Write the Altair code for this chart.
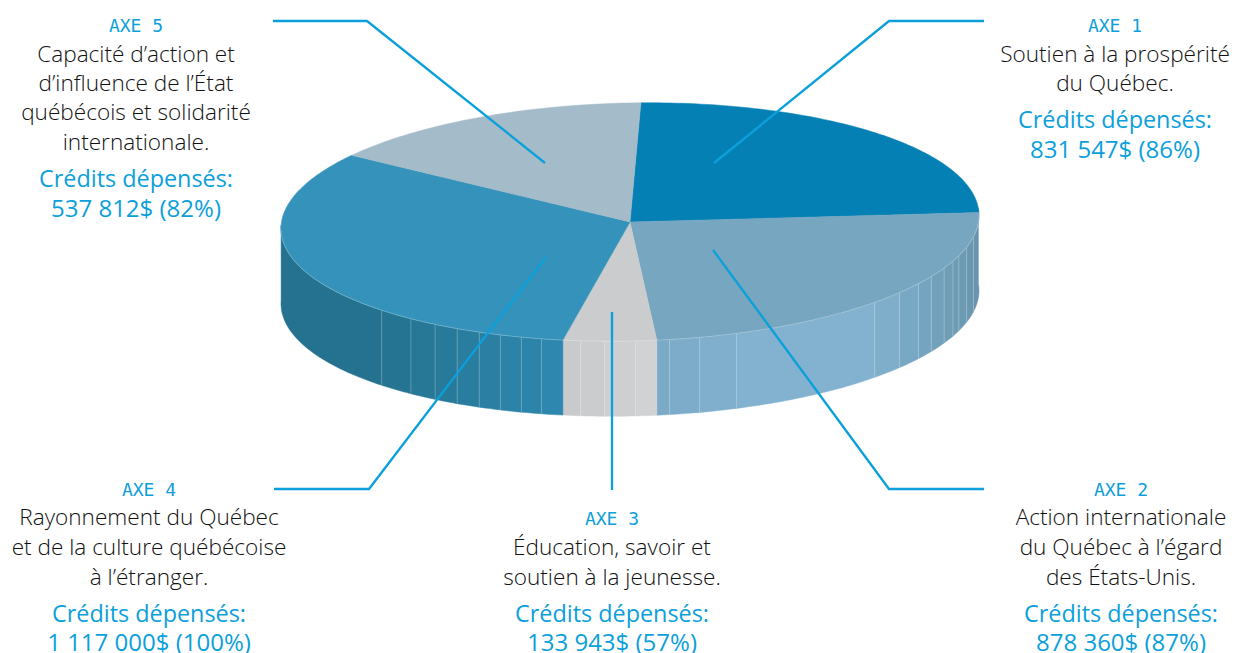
import math
import altair as alt
import pandas as pd

# ---- values ----
axes = ["AXE 1", "AXE 2", "AXE 3", "AXE 4", "AXE 5"]
slice_degrees = [86.8, 87.0, 15.5, 116.0, 54.7]
top_colors = ["#0580b4", "#76a6c0", "#cbcccd", "#3492bb", "#a4bbc9"]
descriptions = [
    ["Soutien à la prospérité", "du Québec."],
    ["Action internationale", "du Québec à l’égard", "des États-Unis."],
    ["Éducation, savoir et", "soutien à la jeunesse."],
    ["Rayonnement du Québec", "et de la culture québécoise", "à l’étranger."],
    ["Capacité d’action et", "d’influence de l’État", "québécois et solidarité", "internationale."],
]
credits_label = "Crédits dépensés:"
credits = ["831 547$ (86%)", "878 360$ (87%)", "133 943$ (57%)", "1 117 000$ (100%)", "537 812$ (82%)"]

# ---- layout of the picture (image pixels) ----
CX, CY, A, B, TILT, DEPTH, START = 630, 222, 349, 119, 0.021, 75, 2.2
BLUE = "#0ba0db"
label_x = [1115, 1121, 612, 149, 136]
title_base = [32, 496, 525, 496, 32]
desc_base = [[62, 91], [525, 555, 585], [555, 585], [525, 555, 585], [62, 91, 120, 150]]
cred_base = [[128, 158], [622, 651], [622, 651], [622, 651], [187, 217]]
leaders = [
    [(984, 21), (889, 21), (714, 163)],
    [(984, 489), (889, 489), (713, 250)],
    [(612, 490), (612, 312)],
    [(274, 489), (369, 489), (546, 257)],
    [(273, 21), (367, 21), (545, 163)],
]
seam_x = [380, 409, 433, 455, 477, 498, 519, 539, 578, 602, 633, 667, 697, 734,
          873, 898, 917, 930, 943, 952, 958, 966, 973]
side_stops = [(281, "#24728f"), (380, "#24728f"), (562, "#2f88b0"),
              (563, "#c8c9cb"), (656, "#d2d3d5"),
              (657, "#7aa9c6"), (750, "#82b2d0"), (870, "#82b2d0"), (930, "#73a3bd"), (979, "#6a95ae")]


def rim(deg, drop=0):
    t = math.radians(deg)
    u, v = A * math.sin(t), B * math.cos(t)
    return (CX + u - v * TILT, CY - u * TILT - v + drop)


def mix(x):
    for (x0, c0), (x1, c1) in zip(side_stops, side_stops[1:]):
        if x <= x1:
            f = max(0, (x - x0) / (x1 - x0))
            a = [int(c0[i:i + 2], 16) for i in (1, 3, 5)]
            b = [int(c1[i:i + 2], 16) for i in (1, 3, 5)]
            return "#%02x%02x%02x" % tuple(round(p + (q - p) * f) for p, q in zip(a, b))
    return side_stops[-1][1]


def seam_deg(x):
    return 180 - math.degrees(math.asin((x - CX) / A))


top_rows, side_rows, seam_rows, rim_rows = [], [], [], []
ang = START
cum = []
for name, deg, col in zip(axes, slice_degrees, top_colors):
    pts = [(CX, CY)]
    n = int(deg) + 2
    pts += [rim(ang + deg * i / (n - 1)) for i in range(n)]
    for k, (x, y) in enumerate(pts):
        top_rows.append(dict(g=name, k=k, x=x, y=y, c=col))
    ang += deg
    cum.append(ang)

edges = sorted([87.0, 272.0, cum[1], cum[2]] + [seam_deg(x) for x in seam_x])
for sid, (d0, d1) in enumerate(zip(edges, edges[1:])):
    n = max(2, int(d1 - d0) + 2)
    angs = [d0 + (d1 - d0) * i / (n - 1) for i in range(n)]
    poly_pts = [rim(t) for t in angs] + [rim(t, DEPTH) for t in reversed(angs)]
    col = mix(rim((d0 + d1) / 2)[0])
    for k, (x, y) in enumerate(poly_pts):
        side_rows.append(dict(g=sid, k=k, x=x, y=y, c=col))

for i, x in enumerate(seam_x):
    dg = seam_deg(x)
    for k, drop in enumerate((0, DEPTH)):
        px, py = rim(dg, drop)
        seam_rows.append(dict(g=i, k=k, x=px, y=py))

for i in range(0, 181):
    px, py = rim(90 + i)
    rim_rows.append(dict(k=i, x=px, y=py))

leader_rows = []
for i, line in enumerate(leaders):
    for k, (x, y) in enumerate(line):
        leader_rows.append(dict(g=i, k=k, x=x, y=y))

title_rows, desc_rows, label_rows, amount_rows = [], [], [], []
for i, name in enumerate(axes):
    title_rows.append(dict(x=label_x[i], y=title_base[i], t=name))
    for s, y in zip(descriptions[i], desc_base[i]):
        desc_rows.append(dict(x=label_x[i], y=y, t=s))
    label_rows.append(dict(x=label_x[i], y=cred_base[i][0], t=credits_label))
    amount_rows.append(dict(x=label_x[i], y=cred_base[i][1], t=credits[i]))

X = alt.X("x:Q", scale=alt.Scale(domain=[8, 1230], nice=False, zero=False), axis=None)
Y = alt.Y("y:Q", scale=alt.Scale(domain=[653, 8], nice=False, zero=False), axis=None)


def poly(rows, sw):
    return alt.Chart(pd.DataFrame(rows)).mark_line(
        interpolate="linear-closed", strokeWidth=sw, filled=True
    ).encode(
        x=X, y=Y, detail="g:N", order="k:Q",
        fill=alt.Fill("c:N", scale=None), stroke=alt.Stroke("c:N", scale=None),
    )


def text(rows, font, size, color, weight=400):
    return alt.Chart(pd.DataFrame(rows)).mark_text(
        font=font, fontSize=size, fontWeight=weight, color=color, align="center", baseline="alphabetic"
    ).encode(x=X, y=Y, text="t:N")


sides = poly(side_rows, 0.5)
seams = alt.Chart(pd.DataFrame(seam_rows)).mark_line(
    color="#ffffff", strokeWidth=0.7, opacity=0.35
).encode(x=X, y=Y, detail="g:N", order="k:Q")
tops = poly(top_rows, 0.5)
rim_line = alt.Chart(pd.DataFrame(rim_rows)).mark_line(
    color="#ffffff", strokeWidth=0.7, opacity=0.35
).encode(x=X, y=Y, order="k:Q")
lines = alt.Chart(pd.DataFrame(leader_rows)).mark_line(
    color=BLUE, strokeWidth=2.3
).encode(x=X, y=Y, detail="g:N", order="k:Q")

titles = text(title_rows, "DejaVu Sans Mono", 18, BLUE)
descs = text(desc_rows, "Open Sans", 22.6, "#111111", 300)
labels = text(label_rows, "Open Sans", 23.4, BLUE)
amounts = text(amount_rows, "Open Sans", 24, BLUE)

chart = alt.layer(sides, seams, tops, rim_line, lines, titles, descs, labels, amounts).properties(
    width=1222, height=645, padding=0, autosize=alt.AutoSizeParams(type="none"),
    background="#ffffff",
).configure_view(stroke=None)

chart.save("out.html", embed_options={"renderer": "svg", "actions": False})
